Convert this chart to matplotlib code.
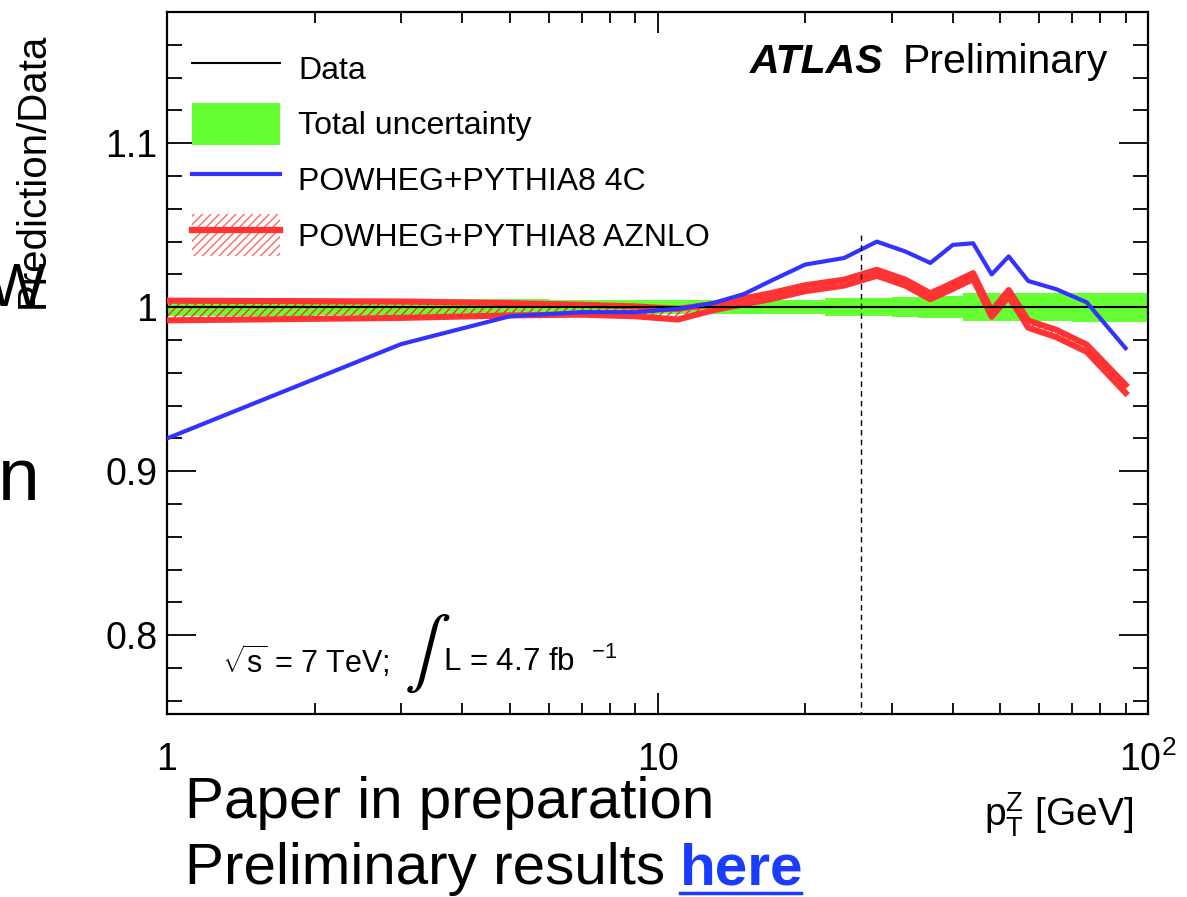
import numpy as np
import matplotlib.pyplot as plt
from matplotlib.lines import Line2D
from matplotlib.patches import Patch
from matplotlib.ticker import FixedLocator, FixedFormatter, MultipleLocator

plt.rcParams['font.family'] = ['Liberation Sans', 'DejaVu Sans']
plt.rcParams['mathtext.fontset'] = 'custom'
plt.rcParams['mathtext.rm'] = 'Liberation Sans'
plt.rcParams['mathtext.it'] = 'Liberation Sans:italic'
plt.rcParams['mathtext.bf'] = 'Liberation Sans:bold'
plt.rcParams['hatch.linewidth'] = 1.0

# bin centres (GeV)
pt = [1, 3, 5, 7, 9, 11, 13, 15, 17, 20, 24, 28, 32, 36, 40, 44, 48, 52, 57, 65, 75, 90]

# POWHEG+PYTHIA8 4C / data
blue_4c = [0.920, 0.9775, 0.9945, 0.997, 0.997, 0.999, 1.0026, 1.008, 1.016, 1.026, 1.030, 1.040,
           1.034, 1.027, 1.038, 1.039, 1.020, 1.031, 1.016, 1.011, 1.003, 0.975]

# POWHEG+PYTHIA8 AZNLO / data band
red_lo = [0.9920, 0.9935, 0.9950, 0.9955, 0.9945, 0.9925, 0.9982, 1.0018, 1.0049, 1.0098, 1.0132, 1.0192,
          1.0132, 1.0049, 1.0112, 1.0172, 0.9942, 1.0065, 0.9875, 0.9818, 0.9728, 0.9478]
red_hi = [1.0040, 1.0035, 1.0025, 1.0015, 1.0005, 0.9990, 1.0018, 1.0054, 1.0085, 1.0134, 1.0168, 1.0228,
          1.0168, 1.0085, 1.0148, 1.0208, 0.9978, 1.0105, 0.9919, 0.9862, 0.9772, 0.9527]

# total uncertainty on data (histogram bins)
bin_edges = [0, 2, 4, 6, 8, 10, 12, 14, 16, 18, 22, 26, 30, 34, 38, 42, 46, 50, 54, 60, 70, 80, 100]
unc_half = [0.0055, 0.005, 0.0048, 0.0045, 0.0045, 0.0044, 0.0044, 0.0044, 0.0044, 0.0044, 0.0056,
            0.0056, 0.0062, 0.0066, 0.0066, 0.0084, 0.0084, 0.0084, 0.0084, 0.0084, 0.0089, 0.0089]

green = '#66ff33'
blue = '#3333ff'
red = '#ff3333'

fig = plt.figure(figsize=(11.87, 8.97), dpi=100)
ax = fig.add_axes([167/1187, 1-714/897, 981/1187, 702/897])

# uncertainty band as stairs
ex = np.repeat(bin_edges, 2)[1:-1]
eh = np.repeat(unc_half, 2)
ax.fill_between(ex, 1 - eh, 1 + eh, color=green, lw=0, zorder=1)

# AZNLO band
ax.fill_between(pt, red_lo, red_hi, facecolor='none', edgecolor=red, hatch='////', lw=0, zorder=2)
ax.plot(pt, red_lo, color=red, lw=4.4, zorder=3)
ax.plot(pt, red_hi, color=red, lw=4.4, zorder=3)

# data
ax.plot([1, 100], [1, 1], color='black', lw=1.5, zorder=4)

# 4C
ax.plot(pt, blue_4c, color=blue, lw=3.0, zorder=5)

# vertical dashed line at 26 GeV
ax.plot([26, 26], [0.75, 1.045], color='black', lw=1.0, ls=(0, (4, 3)), zorder=6)

ax.set_xscale('log')
ax.set_xlim(1, 100)
ax.set_ylim(0.752, 1.18)

ax.xaxis.set_major_locator(FixedLocator([1, 10, 100]))
ax.xaxis.set_major_formatter(FixedFormatter(['1', '10', '$10^{2}$']))
ax.xaxis.set_minor_locator(FixedLocator([2, 3, 4, 5, 6, 7, 8, 9, 20, 30, 40, 50, 60, 70, 80, 90]))
ax.xaxis.set_minor_formatter(FixedFormatter([]))
ax.yaxis.set_major_locator(FixedLocator([0.8, 0.9, 1.0, 1.1]))
ax.yaxis.set_major_formatter(FixedFormatter(['0.8', '0.9', '1', '1.1']))
ax.yaxis.set_minor_locator(MultipleLocator(0.02))

ax.tick_params(axis='both', which='both', direction='in', top=True, right=True, colors='black')
ax.tick_params(axis='y', which='major', length=21, width=1.3, labelsize=27, pad=7)
ax.tick_params(axis='y', which='minor', length=10.8, width=1.3)
ax.tick_params(axis='x', which='major', length=15, width=1.3, labelsize=27, pad=20)
ax.tick_params(axis='x', which='minor', length=7.6, width=1.3)
for s in ax.spines.values():
    s.set_linewidth(1.6)

# legend
handles = [Line2D([], [], color='black', lw=1.5),
           Patch(facecolor=green, edgecolor='none'),
           Line2D([], [], color=blue, lw=3.0),
           (Patch(facecolor='white', edgecolor='#ff6666', hatch='////', lw=0),
            Line2D([], [], color=red, lw=4.5))]
labels = ['Data', 'Total uncertainty', 'POWHEG+PYTHIA8 4C', 'POWHEG+PYTHIA8 AZNLO']
ax.legend(handles, labels, loc='upper left', bbox_to_anchor=(0.0255, 0.950), frameon=False,
          fontsize=23, handlelength=2.76, handleheight=1.67, handletextpad=0.56,
          labelspacing=0.41, borderpad=0, borderaxespad=0)

# ATLAS label
fig.text(750/1187, 1-62/897, 'ATLAS', fontsize=29.5,
         fontweight='bold', fontstyle='italic', ha='left', va='center')
fig.text(903/1187, 1-62/897, 'Preliminary', fontsize=29.5, ha='left', va='center')

# energy / luminosity
fig.text(222/1187, 1-662/897, r'$\sqrt{\mathrm{s}}$ = 7 TeV;', fontsize=22, ha='left', va='center')
fig.text(404/1187, 1-654/897, r'$\int$', fontsize=50, ha='left', va='center',
         math_fontfamily='stix')
fig.text(443/1187, 1-662/897, 'L = 4.7 fb  $^{-1}$', fontsize=22.5, ha='left', va='center')

# axis titles
fig.text(1133/1187, 1-815/897, r'p$_{\mathrm{T}}^{\mathrm{Z}}$ [GeV]', fontsize=28, ha='right', va='center')
fig.text(33/1187, 1-33/897, 'Prediction/Data', fontsize=29, rotation=90, ha='center', va='top')

# slide text around the plot
fig.text(45/1187, 1-290/897, 'W', fontsize=44, ha='right', va='center')
fig.text(40/1187, 1-480/897, 'n', fontsize=54, ha='right', va='center')
fig.text(185/1187, 1-803/897, 'Paper in preparation', fontsize=42, ha='left', va='center')
fig.text(185/1187, 1-869/897, 'Preliminary results', fontsize=42, ha='left', va='center')
fig.text(680/1187, 1-869/897, 'here', fontsize=42, ha='left', va='center',
         color='#1a3cff', fontweight='bold')
fig.add_artist(Line2D([680/1187, 801/1187], [1-893/897, 1-893/897], color='#1a3cff', lw=2.5,
                      transform=fig.transFigure))

fig.savefig('out.png', dpi=100)
